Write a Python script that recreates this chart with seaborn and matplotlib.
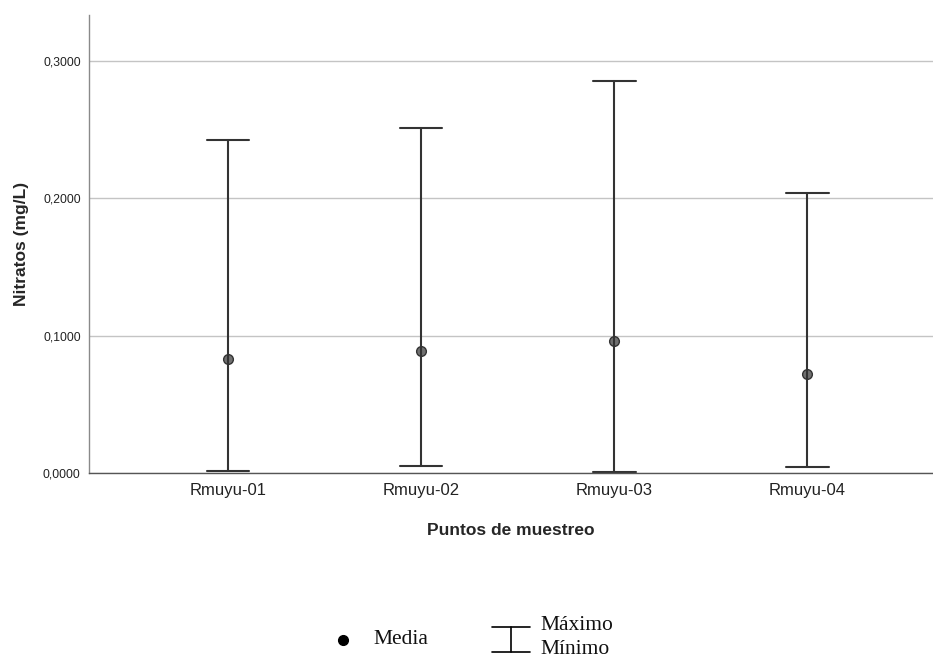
import numpy as np
import pandas as pd
import seaborn as sns
import matplotlib.pyplot as plt
from matplotlib.lines import Line2D

# Nitrate concentration (mg/L) per sampling point
puntos = ["Rmuyu-01", "Rmuyu-02", "Rmuyu-03", "Rmuyu-04"]
minimo = [0.0015, 0.0051, 0.0007, 0.0047]
media = [0.0830, 0.0889, 0.0961, 0.0721]
maximo = [0.2425, 0.2513, 0.2855, 0.2036]
y_ticks = [0.0, 0.1, 0.2, 0.3]
y_tick_labels = ["0,0000", "0,1000", "0,2000", "0,3000"]

sns.set_theme(style="white")
plt.rcParams["font.family"] = ["Liberation Sans", "DejaVu Sans"]

# Long table: the median of (min, mean, max) is the mean, and the
# 100 % percentile interval spans min..max.
df = pd.DataFrame({"punto": puntos * 3, "valor": minimo + media + maximo})

W, H = 933, 659
fig = plt.figure(figsize=(W / 100, H / 100), dpi=100)
ax = fig.add_axes([89 / W, 1 - 473 / H, 1 - 89 / W, (473 - 15) / H])

sns.pointplot(
    data=df, x="punto", y="valor", order=puntos,
    estimator="median", errorbar=("pi", 100),
    capsize=0.22, linestyle="none", color="#333333",
    err_kws={"linewidth": 1.5},
    markers="o", markersize=7,
    markerfacecolor="#707070", markeredgecolor="#333333", markeredgewidth=1.0,
    ax=ax,
)

ax.set_xlim(-0.72, 3.65)
ax.set_ylim(0, 0.3336)
ax.set_yticks(y_ticks)
ax.set_yticklabels(y_tick_labels, fontsize=8.7, color="#222222")
ax.tick_params(axis="y", length=0, pad=6)
ax.tick_params(axis="x", length=0, pad=7, labelsize=12, labelcolor="#222222")

ax.yaxis.grid(True, color="#c4c4c4", linewidth=1.0)
ax.set_axisbelow(True)
for side in ["top", "right"]:
    ax.spines[side].set_visible(False)
ax.spines["left"].set_color("#8a8a8a")
ax.spines["bottom"].set_color("#555555")
ax.spines["left"].set_linewidth(1.0)
ax.spines["bottom"].set_linewidth(1.0)

ax.set_xlabel("Puntos de muestreo", fontsize=12.5, fontweight="bold", labelpad=18)
ax.set_ylabel("Nitratos (mg/L)", fontsize=12.5, fontweight="bold", labelpad=10)

# Legend drawn below the chart
def fx(px):
    return px / W

def fy(py):
    return 1 - py / H

fig.add_artist(Line2D([fx(343)], [fy(640)], marker="o", color="black",
                      markersize=7, linestyle="none"))
fig.text(fx(373), fy(639), "Media", family="Liberation Serif", fontsize=15.5,
         va="center", ha="left", color="#111111")
fig.add_artist(Line2D([fx(511), fx(511)], [fy(627), fy(652)], color="black", linewidth=1.2))
fig.add_artist(Line2D([fx(492), fx(530)], [fy(627), fy(627)], color="black", linewidth=1.2))
fig.add_artist(Line2D([fx(492), fx(530)], [fy(652), fy(652)], color="black", linewidth=1.2))
fig.text(fx(540), fy(626), "Máximo", family="Liberation Serif", fontsize=15.5,
         va="center", ha="left", color="#111111")
fig.text(fx(540), fy(650), "Mínimo", family="Liberation Serif", fontsize=15.5,
         va="center", ha="left", color="#111111")

fig.savefig("out.png", dpi=100, facecolor="white")
